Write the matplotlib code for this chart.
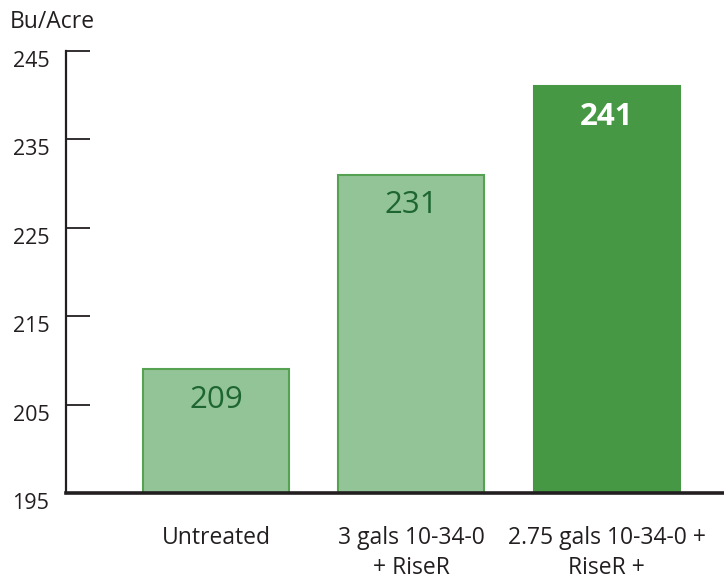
import matplotlib
matplotlib.use("Agg")
import matplotlib.pyplot as plt
import matplotlib.transforms as mtransforms

categories = ["Untreated", "3 gals 10-34-0\n+ RiseR", "2.75 gals 10-34-0 +\nRiseR +"]
values = [209, 231, 241]
yticks = [195, 205, 215, 225, 235, 245]

fill_colors = ["#93c497", "#93c497", "#479845"]
edge_colors = ["#55a352", "#55a352", "#479845"]
label_colors = ["#1e6631", "#1e6631", "#ffffff"]
label_weights = ["normal", "normal", "bold"]

plt.rcParams['font.family'] = ['Open Sans', 'DejaVu Sans']
ink = "#231f20"

fig = plt.figure(figsize=(7.24, 5.78), dpi=100)
W, H = 724, 578
ax = fig.add_axes([66 / W, 1 - 493 / H, (724 - 66) / W, (493 - 51) / H])

x = list(range(len(categories)))
bars = ax.bar(x, [v - 195 for v in values], bottom=195, width=0.747,
              color=fill_colors, edgecolor=edge_colors, linewidth=1.5, zorder=2)

ax.set_ylim(195, 245)
ax.set_xlim(-0.767, 2.599)

for b, v, c, w in zip(bars, values, label_colors, label_weights):
    ax.annotate(str(v), (b.get_x() + b.get_width() / 2, v), xytext=(0, -22),
                textcoords="offset points", ha="center", va="center",
                fontsize=22.5, color=c, fontweight=w, zorder=3)

for s in ["top", "right"]:
    ax.spines[s].set_visible(False)
ax.spines["left"].set_color(ink)
ax.spines["left"].set_linewidth(1.6)
ax.spines["bottom"].set_color(ink)
ax.spines["bottom"].set_linewidth(2.6)
ax.spines["bottom"].set_zorder(4)

ax.set_yticks(yticks)
ax.set_yticklabels([str(t) for t in yticks])
ax.tick_params(axis="y", direction="in", length=17, width=1.3, color=ink,
               labelsize=15.5, labelcolor=ink, pad=12)
for lab in ax.get_yticklabels():
    lab.set_transform(lab.get_transform() + mtransforms.ScaledTranslation(0, -8 / 100, fig.dpi_scale_trans))

ax.set_xticks(x)
ax.set_xticklabels(categories, linespacing=1.3)
ax.tick_params(axis="x", length=0, labelsize=16.5, labelcolor=ink, pad=24)

fig.text(10 / W, 1 - 22 / H, "Bu/Acre", fontsize=16.5, color=ink, ha="left", va="center")

fig.savefig("out.png", dpi=100)
